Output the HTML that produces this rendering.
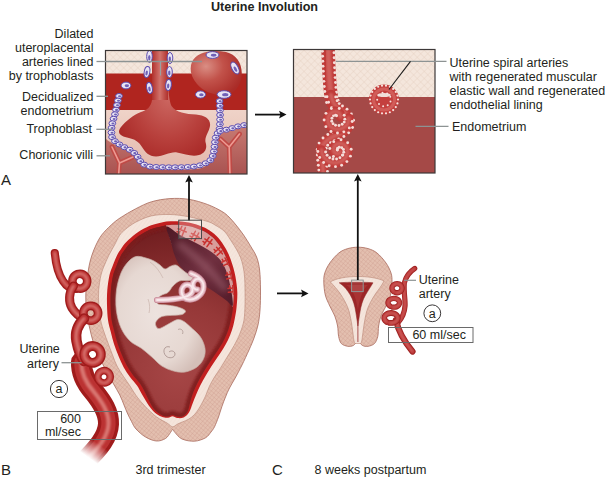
<!DOCTYPE html>
<html><head><meta charset="utf-8">
<style>
html,body{margin:0;padding:0;background:#fff;}
body{width:605px;height:478px;overflow:hidden;position:relative;}
svg{position:absolute;left:0;top:0;display:block;}
text{font-family:"Liberation Sans",sans-serif;fill:#231f20;}
</style></head><body>
<svg width="605" height="478" viewBox="0 0 605 478">

<defs>
  <pattern id="hatchCream" width="5" height="5" patternUnits="userSpaceOnUse" patternTransform="rotate(45)">
    <rect width="5" height="5" fill="#f4e6dc"/>
    <path d="M0 0V5M0 0H5" stroke="#e3cbbd" stroke-width="0.7"/>
  </pattern>
  <pattern id="hatchWall" width="3.2" height="3.2" patternUnits="userSpaceOnUse" patternTransform="rotate(40)">
    <rect width="3.2" height="3.2" fill="#e3bfaf"/>
    <path d="M0 0V3.2M0 0H3.2" stroke="#cc9b8a" stroke-width="0.55"/>
  </pattern>
  <pattern id="hatchLight" width="3" height="3" patternUnits="userSpaceOnUse" patternTransform="rotate(35)">
    <rect width="3" height="3" fill="#f5e5dc"/>
    <path d="M0 0V3" stroke="#e8d2c6" stroke-width="0.5"/>
  </pattern>
  <linearGradient id="box1low" x1="0" y1="0" x2="0" y2="1">
    <stop offset="0" stop-color="#efd3c8"/>
    <stop offset="1" stop-color="#e2b6aa"/>
  </linearGradient>
  <linearGradient id="box1dark" x1="0" y1="0" x2="0" y2="1">
    <stop offset="0" stop-color="#c87a72"/>
    <stop offset="1" stop-color="#a85250"/>
  </linearGradient>
  <radialGradient id="blobGrad" cx="0.55" cy="0.45" r="0.65">
    <stop offset="0" stop-color="#cc6862"/>
    <stop offset="0.6" stop-color="#b8403c"/>
    <stop offset="1" stop-color="#a82826"/>
  </radialGradient>
  <linearGradient id="stalkGrad" x1="0" y1="0" x2="1" y2="0">
    <stop offset="0" stop-color="#b0302c"/>
    <stop offset="0.5" stop-color="#d2736c"/>
    <stop offset="1" stop-color="#b0302c"/>
  </linearGradient>
  <radialGradient id="roundGrad" cx="0.3" cy="0.35" r="0.75">
    <stop offset="0" stop-color="#da8e84"/>
    <stop offset="0.45" stop-color="#c2524a"/>
    <stop offset="1" stop-color="#aa2c28"/>
  </radialGradient>
  <radialGradient id="cavity" gradientUnits="userSpaceOnUse" cx="178" cy="372" r="150">
    <stop offset="0" stop-color="#a64646"/>
    <stop offset="0.45" stop-color="#963838"/>
    <stop offset="1" stop-color="#6e1c1e"/>
  </radialGradient>
  <linearGradient id="placenta" x1="0" y1="0" x2="1" y2="1">
    <stop offset="0" stop-color="#4e1824"/>
    <stop offset="0.55" stop-color="#703040"/>
    <stop offset="1" stop-color="#521a28"/>
  </linearGradient>
  <radialGradient id="fetusGrad" cx="0.45" cy="0.5" r="0.6">
    <stop offset="0" stop-color="#ede2de"/>
    <stop offset="0.7" stop-color="#e6d8d2"/>
    <stop offset="1" stop-color="#d4bfb8"/>
  </radialGradient>
  <filter id="soft" x="-20%" y="-20%" width="140%" height="140%"><feGaussianBlur stdDeviation="0.8"/></filter>
  <filter id="soft2" x="-30%" y="-30%" width="160%" height="160%"><feGaussianBlur stdDeviation="3"/></filter>
  <filter id="soft05" x="-10%" y="-10%" width="120%" height="120%"><feGaussianBlur stdDeviation="0.35"/></filter>
  <linearGradient id="trunkFade" gradientUnits="userSpaceOnUse" x1="99" y1="444" x2="89" y2="458">
    <stop offset="0" stop-color="#fff"/>
    <stop offset="1" stop-color="#000"/>
  </linearGradient>
  <mask id="trunkMask" maskUnits="userSpaceOnUse" x="0" y="0" width="605" height="478">
    <rect x="0" y="0" width="605" height="478" fill="url(#trunkFade)"/>
  </mask>
  <linearGradient id="fadeArt" x1="0" y1="0" x2="0" y2="1">
    <stop offset="0" stop-color="#fff" stop-opacity="0"/>
    <stop offset="1" stop-color="#fff" stop-opacity="1"/>
  </linearGradient>
</defs>
<text x="211" y="11" font-size="12.6" font-weight="bold">Uterine Involution</text>
<clipPath id="clip1"><rect x="105" y="50" width="142" height="124"/></clipPath>
<g clip-path="url(#clip1)">
<rect x="105" y="50" width="142" height="24" fill="url(#hatchCream)"/>
<rect x="105" y="73.5" width="142" height="37" fill="#b0251f"/>
<rect x="105" y="110" width="142" height="64" fill="url(#box1low)"/>
<path d="M105 138 C108 141 112 143.5 120 147 C128 151 134 154 137 158 C140 163 145 168 152 169 C170 170 190 170 200 168.5 C208 166 212 162 214 157 C216 150 216 140 219 133 C228 130 238 127 247 126 L247 175 L105 175 Z" fill="url(#box1dark)"/>
<path d="M152 48 L152 100 C151 107 147 110 141 112 C133 115 126 121 121 127 C117 132 119 136 127 137.5 C135 139 139 142 142 147 C145 152 149 156.5 156 156.5 C164 156.5 170 151.5 177 152.5 C185 154 192 157 199 155 C205.5 153 207.5 148 205.5 142 C204.5 137 209 132 210 126 C211 119 205 115.5 196 114.5 C186 114 176 112.5 171.5 106 C168.5 98 168 90 168 48 Z" fill="url(#blobGrad)"/>
<rect x="152" y="48" width="16" height="52" fill="url(#stalkGrad)"/>
<path d="M192 62 C196 52 212 49 226 52 C238 55 244 66 241 80 C238 90 231 95 222 95 C212 95 203 91 197 84 C191 77 189 69 192 62 Z" fill="url(#roundGrad)"/>
<g fill="none" stroke="#bf4a46" stroke-width="4.8" stroke-linecap="round"><path d="M118.5 176 L119.5 163 L112 147 M119.5 163 L133 157"/><path d="M230 176 L229.2 147 L220.5 139 M229.2 147 L239.5 134"/></g>
<g fill="none" stroke="#ee9a92" stroke-width="1.6" stroke-linecap="round"><path d="M118.5 176 L119.5 163 L112 147 M119.5 163 L133 157"/><path d="M230 176 L229.2 147 L220.5 139 M229.2 147 L239.5 134"/></g>
<g transform="translate(119 96) rotate(0)"><ellipse rx="3.4" ry="2.5" fill="#e9e4f3" stroke="#5c4cb0" stroke-width="1"/><ellipse cx="0.61" cy="0.2" rx="1.53" ry="1.05" fill="#6252b0" opacity="0.9"/></g>
<g transform="translate(117.91 100.58) rotate(0)"><ellipse rx="3.4" ry="2.5" fill="#e9e4f3" stroke="#5c4cb0" stroke-width="1"/><ellipse cx="0.61" cy="0.2" rx="1.53" ry="1.05" fill="#6252b0" opacity="0.9"/></g>
<g transform="translate(116.91 105.12) rotate(0)"><ellipse rx="3.4" ry="2.5" fill="#e9e4f3" stroke="#5c4cb0" stroke-width="1"/><ellipse cx="0.61" cy="0.2" rx="1.53" ry="1.05" fill="#6252b0" opacity="0.9"/></g>
<g transform="translate(115.94 109.71) rotate(0)"><ellipse rx="3.4" ry="2.5" fill="#e9e4f3" stroke="#5c4cb0" stroke-width="1"/><ellipse cx="0.61" cy="0.2" rx="1.53" ry="1.05" fill="#6252b0" opacity="0.9"/></g>
<g transform="translate(114.92 114.29) rotate(0)"><ellipse rx="3.4" ry="2.5" fill="#e9e4f3" stroke="#5c4cb0" stroke-width="1"/><ellipse cx="0.61" cy="0.2" rx="1.53" ry="1.05" fill="#6252b0" opacity="0.9"/></g>
<g transform="translate(113.56 118.78) rotate(0)"><ellipse rx="3.4" ry="2.5" fill="#e9e4f3" stroke="#5c4cb0" stroke-width="1"/><ellipse cx="0.61" cy="0.2" rx="1.53" ry="1.05" fill="#6252b0" opacity="0.9"/></g>
<g transform="translate(112.34 123.3) rotate(0)"><ellipse rx="3.4" ry="2.5" fill="#e9e4f3" stroke="#5c4cb0" stroke-width="1"/><ellipse cx="0.61" cy="0.2" rx="1.53" ry="1.05" fill="#6252b0" opacity="0.9"/></g>
<g transform="translate(111.58 127.87) rotate(0)"><ellipse rx="3.4" ry="2.5" fill="#e9e4f3" stroke="#5c4cb0" stroke-width="1"/><ellipse cx="0.61" cy="0.2" rx="1.53" ry="1.05" fill="#6252b0" opacity="0.9"/></g>
<g transform="translate(111.43 132.49) rotate(0)"><ellipse rx="3.4" ry="2.5" fill="#e9e4f3" stroke="#5c4cb0" stroke-width="1"/><ellipse cx="0.61" cy="0.2" rx="1.53" ry="1.05" fill="#6252b0" opacity="0.9"/></g>
<g transform="translate(112.03 137.07) rotate(0)"><ellipse rx="3.4" ry="2.5" fill="#e9e4f3" stroke="#5c4cb0" stroke-width="1"/><ellipse cx="0.61" cy="0.2" rx="1.53" ry="1.05" fill="#6252b0" opacity="0.9"/></g>
<g transform="translate(114.96 141.18) rotate(0)"><ellipse rx="3.4" ry="2.5" fill="#e9e4f3" stroke="#5c4cb0" stroke-width="1"/><ellipse cx="0.61" cy="0.2" rx="1.53" ry="1.05" fill="#6252b0" opacity="0.9"/></g>
<g transform="translate(119.4 144.46) rotate(0)"><ellipse rx="3.4" ry="2.5" fill="#e9e4f3" stroke="#5c4cb0" stroke-width="1"/><ellipse cx="0.61" cy="0.2" rx="1.53" ry="1.05" fill="#6252b0" opacity="0.9"/></g>
<g transform="translate(124.43 147.21) rotate(0)"><ellipse rx="3.4" ry="2.5" fill="#e9e4f3" stroke="#5c4cb0" stroke-width="1"/><ellipse cx="0.61" cy="0.2" rx="1.53" ry="1.05" fill="#6252b0" opacity="0.9"/></g>
<g transform="translate(129.65 149.77) rotate(0)"><ellipse rx="3.4" ry="2.5" fill="#e9e4f3" stroke="#5c4cb0" stroke-width="1"/><ellipse cx="0.61" cy="0.2" rx="1.53" ry="1.05" fill="#6252b0" opacity="0.9"/></g>
<g transform="translate(134.19 152.97) rotate(0)"><ellipse rx="3.4" ry="2.5" fill="#e9e4f3" stroke="#5c4cb0" stroke-width="1"/><ellipse cx="0.61" cy="0.2" rx="1.53" ry="1.05" fill="#6252b0" opacity="0.9"/></g>
<g transform="translate(137.63 156.85) rotate(0)"><ellipse rx="3.4" ry="2.5" fill="#e9e4f3" stroke="#5c4cb0" stroke-width="1"/><ellipse cx="0.61" cy="0.2" rx="1.53" ry="1.05" fill="#6252b0" opacity="0.9"/></g>
<g transform="translate(140.21 161.04) rotate(0)"><ellipse rx="3.4" ry="2.5" fill="#e9e4f3" stroke="#5c4cb0" stroke-width="1"/><ellipse cx="0.61" cy="0.2" rx="1.53" ry="1.05" fill="#6252b0" opacity="0.9"/></g>
<g transform="translate(144.16 164.63) rotate(0)"><ellipse rx="3.4" ry="2.5" fill="#e9e4f3" stroke="#5c4cb0" stroke-width="1"/><ellipse cx="0.61" cy="0.2" rx="1.53" ry="1.05" fill="#6252b0" opacity="0.9"/></g>
<g transform="translate(149.84 166.59) rotate(0)"><ellipse rx="3.4" ry="2.5" fill="#e9e4f3" stroke="#5c4cb0" stroke-width="1"/><ellipse cx="0.61" cy="0.2" rx="1.53" ry="1.05" fill="#6252b0" opacity="0.9"/></g>
<g transform="translate(156.16 167) rotate(0)"><ellipse rx="3.4" ry="2.5" fill="#e9e4f3" stroke="#5c4cb0" stroke-width="1"/><ellipse cx="0.61" cy="0.2" rx="1.53" ry="1.05" fill="#6252b0" opacity="0.9"/></g>
<g transform="translate(162.46 167.2) rotate(0)"><ellipse rx="3.4" ry="2.5" fill="#e9e4f3" stroke="#5c4cb0" stroke-width="1"/><ellipse cx="0.61" cy="0.2" rx="1.53" ry="1.05" fill="#6252b0" opacity="0.9"/></g>
<g transform="translate(168.76 167.31) rotate(0)"><ellipse rx="3.4" ry="2.5" fill="#e9e4f3" stroke="#5c4cb0" stroke-width="1"/><ellipse cx="0.61" cy="0.2" rx="1.53" ry="1.05" fill="#6252b0" opacity="0.9"/></g>
<g transform="translate(175.05 167.32) rotate(0)"><ellipse rx="3.4" ry="2.5" fill="#e9e4f3" stroke="#5c4cb0" stroke-width="1"/><ellipse cx="0.61" cy="0.2" rx="1.53" ry="1.05" fill="#6252b0" opacity="0.9"/></g>
<g transform="translate(181.32 167.22) rotate(0)"><ellipse rx="3.4" ry="2.5" fill="#e9e4f3" stroke="#5c4cb0" stroke-width="1"/><ellipse cx="0.61" cy="0.2" rx="1.53" ry="1.05" fill="#6252b0" opacity="0.9"/></g>
<g transform="translate(187.65 167.02) rotate(0)"><ellipse rx="3.4" ry="2.5" fill="#e9e4f3" stroke="#5c4cb0" stroke-width="1"/><ellipse cx="0.61" cy="0.2" rx="1.53" ry="1.05" fill="#6252b0" opacity="0.9"/></g>
<g transform="translate(193.9 166.58) rotate(0)"><ellipse rx="3.4" ry="2.5" fill="#e9e4f3" stroke="#5c4cb0" stroke-width="1"/><ellipse cx="0.61" cy="0.2" rx="1.53" ry="1.05" fill="#6252b0" opacity="0.9"/></g>
<g transform="translate(199.95 165.34) rotate(0)"><ellipse rx="3.4" ry="2.5" fill="#e9e4f3" stroke="#5c4cb0" stroke-width="1"/><ellipse cx="0.61" cy="0.2" rx="1.53" ry="1.05" fill="#6252b0" opacity="0.9"/></g>
<g transform="translate(205.56 163.25) rotate(0)"><ellipse rx="3.4" ry="2.5" fill="#e9e4f3" stroke="#5c4cb0" stroke-width="1"/><ellipse cx="0.61" cy="0.2" rx="1.53" ry="1.05" fill="#6252b0" opacity="0.9"/></g>
<g transform="translate(210.28 160.18) rotate(0)"><ellipse rx="3.4" ry="2.5" fill="#e9e4f3" stroke="#5c4cb0" stroke-width="1"/><ellipse cx="0.61" cy="0.2" rx="1.53" ry="1.05" fill="#6252b0" opacity="0.9"/></g>
<g transform="translate(212.7 155.91) rotate(0)"><ellipse rx="3.4" ry="2.5" fill="#e9e4f3" stroke="#5c4cb0" stroke-width="1"/><ellipse cx="0.61" cy="0.2" rx="1.53" ry="1.05" fill="#6252b0" opacity="0.9"/></g>
<g transform="translate(213.84 151.36) rotate(0)"><ellipse rx="3.4" ry="2.5" fill="#e9e4f3" stroke="#5c4cb0" stroke-width="1"/><ellipse cx="0.61" cy="0.2" rx="1.53" ry="1.05" fill="#6252b0" opacity="0.9"/></g>
<g transform="translate(214.49 146.74) rotate(0)"><ellipse rx="3.4" ry="2.5" fill="#e9e4f3" stroke="#5c4cb0" stroke-width="1"/><ellipse cx="0.61" cy="0.2" rx="1.53" ry="1.05" fill="#6252b0" opacity="0.9"/></g>
<g transform="translate(214.91 142.15) rotate(0)"><ellipse rx="3.4" ry="2.5" fill="#e9e4f3" stroke="#5c4cb0" stroke-width="1"/><ellipse cx="0.61" cy="0.2" rx="1.53" ry="1.05" fill="#6252b0" opacity="0.9"/></g>
<g transform="translate(215.7 137.58) rotate(0)"><ellipse rx="3.4" ry="2.5" fill="#e9e4f3" stroke="#5c4cb0" stroke-width="1"/><ellipse cx="0.61" cy="0.2" rx="1.53" ry="1.05" fill="#6252b0" opacity="0.9"/></g>
<g transform="translate(217.58 133.18) rotate(0)"><ellipse rx="3.4" ry="2.5" fill="#e9e4f3" stroke="#5c4cb0" stroke-width="1"/><ellipse cx="0.61" cy="0.2" rx="1.53" ry="1.05" fill="#6252b0" opacity="0.9"/></g>
<g transform="translate(219.52 128.8) rotate(0)"><ellipse rx="3.4" ry="2.5" fill="#e9e4f3" stroke="#5c4cb0" stroke-width="1"/><ellipse cx="0.61" cy="0.2" rx="1.53" ry="1.05" fill="#6252b0" opacity="0.9"/></g>
<g transform="translate(219.9 124.19) rotate(0)"><ellipse rx="3.4" ry="2.5" fill="#e9e4f3" stroke="#5c4cb0" stroke-width="1"/><ellipse cx="0.61" cy="0.2" rx="1.53" ry="1.05" fill="#6252b0" opacity="0.9"/></g>
<g transform="translate(220.06 119.58) rotate(0)"><ellipse rx="3.4" ry="2.5" fill="#e9e4f3" stroke="#5c4cb0" stroke-width="1"/><ellipse cx="0.61" cy="0.2" rx="1.53" ry="1.05" fill="#6252b0" opacity="0.9"/></g>
<g transform="translate(220.06 114.95) rotate(0)"><ellipse rx="3.4" ry="2.5" fill="#e9e4f3" stroke="#5c4cb0" stroke-width="1"/><ellipse cx="0.61" cy="0.2" rx="1.53" ry="1.05" fill="#6252b0" opacity="0.9"/></g>
<g transform="translate(219.96 110.31) rotate(0)"><ellipse rx="3.4" ry="2.5" fill="#e9e4f3" stroke="#5c4cb0" stroke-width="1"/><ellipse cx="0.61" cy="0.2" rx="1.53" ry="1.05" fill="#6252b0" opacity="0.9"/></g>
<g transform="translate(219.77 105.69) rotate(0)"><ellipse rx="3.4" ry="2.5" fill="#e9e4f3" stroke="#5c4cb0" stroke-width="1"/><ellipse cx="0.61" cy="0.2" rx="1.53" ry="1.05" fill="#6252b0" opacity="0.9"/></g>
<g transform="translate(219.55 101.05) rotate(0)"><ellipse rx="3.4" ry="2.5" fill="#e9e4f3" stroke="#5c4cb0" stroke-width="1"/><ellipse cx="0.61" cy="0.2" rx="1.53" ry="1.05" fill="#6252b0" opacity="0.9"/></g>
<g transform="translate(220.27 130.95) rotate(0)"><ellipse rx="3.4" ry="2.5" fill="#e9e4f3" stroke="#5c4cb0" stroke-width="1"/><ellipse cx="0.61" cy="0.2" rx="1.53" ry="1.05" fill="#6252b0" opacity="0.9"/></g>
<g transform="translate(226.3 129.71) rotate(0)"><ellipse rx="3.4" ry="2.5" fill="#e9e4f3" stroke="#5c4cb0" stroke-width="1"/><ellipse cx="0.61" cy="0.2" rx="1.53" ry="1.05" fill="#6252b0" opacity="0.9"/></g>
<g transform="translate(232.2 128.13) rotate(0)"><ellipse rx="3.4" ry="2.5" fill="#e9e4f3" stroke="#5c4cb0" stroke-width="1"/><ellipse cx="0.61" cy="0.2" rx="1.53" ry="1.05" fill="#6252b0" opacity="0.9"/></g>
<g transform="translate(238.01 126.38) rotate(0)"><ellipse rx="3.4" ry="2.5" fill="#e9e4f3" stroke="#5c4cb0" stroke-width="1"/><ellipse cx="0.61" cy="0.2" rx="1.53" ry="1.05" fill="#6252b0" opacity="0.9"/></g>
<g transform="translate(244.05 125.14) rotate(0)"><ellipse rx="3.4" ry="2.5" fill="#e9e4f3" stroke="#5c4cb0" stroke-width="1"/><ellipse cx="0.61" cy="0.2" rx="1.53" ry="1.05" fill="#6252b0" opacity="0.9"/></g>
<g transform="translate(149.5 56.5) rotate(90)"><ellipse rx="6" ry="2.8" fill="#e9e4f3" stroke="#5c4cb0" stroke-width="1"/><ellipse cx="1.08" cy="0.2" rx="2.7" ry="1.18" fill="#6252b0" opacity="0.9"/></g>
<g transform="translate(147 72) rotate(100)"><ellipse rx="5.5" ry="2.8" fill="#e9e4f3" stroke="#5c4cb0" stroke-width="1"/><ellipse cx="0.99" cy="0.2" rx="2.48" ry="1.18" fill="#6252b0" opacity="0.9"/></g>
<g transform="translate(149.5 88) rotate(80)"><ellipse rx="5.5" ry="2.8" fill="#e9e4f3" stroke="#5c4cb0" stroke-width="1"/><ellipse cx="0.99" cy="0.2" rx="2.48" ry="1.18" fill="#6252b0" opacity="0.9"/></g>
<g transform="translate(170 58) rotate(90)"><ellipse rx="5.5" ry="2.8" fill="#e9e4f3" stroke="#5c4cb0" stroke-width="1"/><ellipse cx="0.99" cy="0.2" rx="2.48" ry="1.18" fill="#6252b0" opacity="0.9"/></g>
<g transform="translate(169.5 72) rotate(90)"><ellipse rx="5.5" ry="2.8" fill="#e9e4f3" stroke="#5c4cb0" stroke-width="1"/><ellipse cx="0.99" cy="0.2" rx="2.48" ry="1.18" fill="#6252b0" opacity="0.9"/></g>
<g transform="translate(168.5 85) rotate(95)"><ellipse rx="5.5" ry="2.8" fill="#e9e4f3" stroke="#5c4cb0" stroke-width="1"/><ellipse cx="0.99" cy="0.2" rx="2.48" ry="1.18" fill="#6252b0" opacity="0.9"/></g>
<g transform="translate(126 85.5) rotate(0)"><ellipse rx="4.8" ry="3.4" fill="#e9e4f3" stroke="#5c4cb0" stroke-width="1"/><ellipse cx="0.86" cy="0.2" rx="2.16" ry="1.43" fill="#6252b0" opacity="0.9"/></g>
<g transform="translate(212.5 55) rotate(0)"><ellipse rx="6.5" ry="3.4" fill="#e9e4f3" stroke="#5c4cb0" stroke-width="1"/><ellipse cx="1.17" cy="0.2" rx="2.93" ry="1.43" fill="#6252b0" opacity="0.9"/></g>
<g transform="translate(235 68) rotate(62)"><ellipse rx="6.5" ry="3.2" fill="#e9e4f3" stroke="#5c4cb0" stroke-width="1"/><ellipse cx="1.17" cy="0.2" rx="2.93" ry="1.34" fill="#6252b0" opacity="0.9"/></g>
<g transform="translate(224 94.5) rotate(0)"><ellipse rx="7" ry="3.8" fill="#e9e4f3" stroke="#5c4cb0" stroke-width="1"/><ellipse cx="1.26" cy="0.2" rx="3.15" ry="1.6" fill="#6252b0" opacity="0.9"/></g>
<g transform="translate(200.5 94.5) rotate(0)"><ellipse rx="5" ry="3.6" fill="#e9e4f3" stroke="#5c4cb0" stroke-width="1"/><ellipse cx="0.9" cy="0.2" rx="2.25" ry="1.51" fill="#6252b0" opacity="0.9"/></g>
<line x1="105" y1="61.5" x2="202" y2="61.5" stroke="#8d9393" stroke-width="1.3"/>
<line x1="160.5" y1="61.5" x2="160.5" y2="75.5" stroke="#9aa0a0" stroke-width="1.1"/>
</g>
<rect x="105.5" y="50.5" width="141.5" height="123.5" fill="none" stroke="#3d3838" stroke-width="1.2"/>
<clipPath id="clip2"><rect x="293" y="49" width="142" height="124"/></clipPath>
<g clip-path="url(#clip2)">
<rect x="293" y="49" width="142" height="48" fill="url(#hatchCream)"/>
<rect x="293" y="97" width="142" height="76" fill="#a54947"/>
<path d="M327.8 40 C328.5 65 329.5 84 331 95 C331.5 99 332 101 333 103" fill="none" stroke="#bf3a38" stroke-width="13.5" stroke-linecap="round" stroke-linejoin="round"/>
<path d="M327.8 40 C328.5 65 329.5 84 331 95 C331.5 99 332 101 333 103" fill="none" stroke="#de7e78" stroke-width="5.4" stroke-linecap="round" opacity="0.55" filter="url(#soft)"/>
<g fill="#f4dcd8" filter="url(#soft05)"><circle cx="322.08" cy="41.16" r="1.45"/><circle cx="322.23" cy="46.18" r="1.45"/><circle cx="322.39" cy="51.19" r="1.45"/><circle cx="322.58" cy="56.21" r="1.45"/><circle cx="322.78" cy="61.23" r="1.45"/><circle cx="323" cy="66.26" r="1.45"/><circle cx="323.26" cy="71.29" r="1.45"/><circle cx="323.55" cy="76.32" r="1.45"/><circle cx="323.89" cy="81.37" r="1.45"/><circle cx="324.29" cy="86.44" r="1.45"/><circle cx="324.79" cy="91.54" r="1.45"/><circle cx="325.42" cy="96.65" r="1.45"/><circle cx="326.61" cy="102.49" r="1.45"/><circle cx="333.63" cy="42.83" r="1.45"/><circle cx="333.79" cy="47.81" r="1.45"/><circle cx="333.96" cy="52.79" r="1.45"/><circle cx="334.15" cy="57.76" r="1.45"/><circle cx="334.35" cy="62.73" r="1.45"/><circle cx="334.59" cy="67.69" r="1.45"/><circle cx="334.85" cy="72.65" r="1.45"/><circle cx="335.16" cy="77.58" r="1.45"/><circle cx="335.51" cy="82.51" r="1.45"/><circle cx="335.93" cy="87.39" r="1.45"/><circle cx="336.44" cy="92.22" r="1.45"/><circle cx="337.08" cy="96.86" r="1.45"/><circle cx="338.03" cy="100.2" r="1.45"/></g>
<path d="M331 95 C332.5 104 336 107 340 109.5 C344 112 347 114 348.5 118 C352 126 345 132 337 135 C329 138 322 142 321.5 150 C321 158 323.5 166 323.5 180" fill="none" stroke="#bf3a38" stroke-width="10.5" stroke-linecap="round" stroke-linejoin="round"/>
<path d="M331 95 C332.5 104 336 107 340 109.5 C344 112 347 114 348.5 118 C352 126 345 132 337 135 C329 138 322 142 321.5 150 C321 158 323.5 166 323.5 180" fill="none" stroke="#de7e78" stroke-width="4.2" stroke-linecap="round" opacity="0.55" filter="url(#soft)"/>
<g fill="#f4dcd8" filter="url(#soft05)"><circle cx="327" cy="96.79" r="1.45"/><circle cx="328.54" cy="102.31" r="1.45"/><circle cx="331.56" cy="107.77" r="1.45"/><circle cx="336.12" cy="112.03" r="1.45"/><circle cx="340.34" cy="114.78" r="1.45"/><circle cx="343.25" cy="117.29" r="1.45"/><circle cx="344.85" cy="120.33" r="1.45"/><circle cx="345.09" cy="123.04" r="1.45"/><circle cx="343.78" cy="125.67" r="1.45"/><circle cx="341" cy="128.2" r="1.45"/><circle cx="337.33" cy="130.27" r="1.45"/><circle cx="332.8" cy="132.09" r="1.45"/><circle cx="327.84" cy="134.51" r="1.45"/><circle cx="323.03" cy="137.96" r="1.45"/><circle cx="319.06" cy="143.09" r="1.45"/><circle cx="317.28" cy="149.49" r="1.45"/><circle cx="317.27" cy="155.05" r="1.45"/><circle cx="317.74" cy="160.26" r="1.45"/><circle cx="318.32" cy="165.23" r="1.45"/><circle cx="318.82" cy="170.09" r="1.45"/><circle cx="319.13" cy="174.91" r="1.45"/><circle cx="319.25" cy="179.72" r="1.45"/><circle cx="335.73" cy="96.89" r="1.45"/><circle cx="337.11" cy="100.71" r="1.45"/><circle cx="339.22" cy="103.62" r="1.45"/><circle cx="342.49" cy="106.04" r="1.45"/><circle cx="347.03" cy="109.17" r="1.45"/><circle cx="351.33" cy="114.07" r="1.45"/><circle cx="353.54" cy="120.27" r="1.45"/><circle cx="352.56" cy="127.46" r="1.45"/><circle cx="348.69" cy="132.87" r="1.45"/><circle cx="343.9" cy="136.43" r="1.45"/><circle cx="338.75" cy="138.88" r="1.45"/><circle cx="334.42" cy="140.67" r="1.45"/><circle cx="330.63" cy="142.78" r="1.45"/><circle cx="327.76" cy="145.28" r="1.45"/><circle cx="326.13" cy="148.14" r="1.45"/><circle cx="325.69" cy="151.84" r="1.45"/><circle cx="325.89" cy="156.43" r="1.45"/><circle cx="326.42" cy="161.27" r="1.45"/><circle cx="326.99" cy="166.29" r="1.45"/><circle cx="327.45" cy="171.42" r="1.45"/><circle cx="327.7" cy="176.59" r="1.45"/></g>
<path d="M348.5 118 C349.5 126 342 130.5 335 129 C328 127.5 325.5 119 330.5 113.5 C334.5 109.5 341 111.5 340.5 117" fill="none" stroke="#bf3a38" stroke-width="9.5" stroke-linecap="round" stroke-linejoin="round"/>
<path d="M348.5 118 C349.5 126 342 130.5 335 129 C328 127.5 325.5 119 330.5 113.5 C334.5 109.5 341 111.5 340.5 117" fill="none" stroke="#de7e78" stroke-width="3.8" stroke-linecap="round" opacity="0.55" filter="url(#soft)"/>
<g fill="#f4dcd8" filter="url(#soft05)"><circle cx="344.83" cy="119.14" r="1.45"/><circle cx="344.21" cy="122.11" r="1.45"/><circle cx="342.17" cy="124.29" r="1.45"/><circle cx="338.98" cy="125.45" r="1.45"/><circle cx="335.53" cy="125.27" r="1.45"/><circle cx="333.04" cy="123.81" r="1.45"/><circle cx="331.74" cy="121.25" r="1.45"/><circle cx="331.93" cy="118.27" r="1.45"/><circle cx="333.49" cy="115.85" r="1.45"/><circle cx="335.53" cy="115.15" r="1.45"/><circle cx="336.61" cy="115.69" r="1.45"/><circle cx="352.18" cy="121.57" r="1.45"/><circle cx="349.3" cy="127.91" r="1.45"/><circle cx="343.83" cy="131.85" r="1.45"/><circle cx="337.49" cy="133.03" r="1.45"/><circle cx="330.99" cy="131.52" r="1.45"/><circle cx="325.88" cy="126.66" r="1.45"/><circle cx="324.13" cy="119.95" r="1.45"/><circle cx="325.97" cy="113.36" r="1.45"/><circle cx="331.36" cy="108.47" r="1.45"/><circle cx="339.23" cy="108.47" r="1.45"/><circle cx="344.21" cy="115.29" r="1.45"/></g>
<path d="M321.5 150 C322 159 330 164.5 338 162.5 C346 160.5 350 152 346 146.5 C342 141.5 334 143 333.5 149 C333 154 339 155.5 340.5 151.5" fill="none" stroke="#bf3a38" stroke-width="9.5" stroke-linecap="round" stroke-linejoin="round"/>
<path d="M321.5 150 C322 159 330 164.5 338 162.5 C346 160.5 350 152 346 146.5 C342 141.5 334 143 333.5 149 C333 154 339 155.5 340.5 151.5" fill="none" stroke="#de7e78" stroke-width="3.8" stroke-linecap="round" opacity="0.55" filter="url(#soft)"/>
<g fill="#f4dcd8" filter="url(#soft05)"><circle cx="317.86" cy="151.44" r="1.45"/><circle cx="319.68" cy="157.47" r="1.45"/><circle cx="323.61" cy="162.51" r="1.45"/><circle cx="329.15" cy="165.72" r="1.45"/><circle cx="335.46" cy="166.64" r="1.45"/><circle cx="341.62" cy="165.22" r="1.45"/><circle cx="346.9" cy="161.62" r="1.45"/><circle cx="350.44" cy="156.13" r="1.45"/><circle cx="351.14" cy="149.27" r="1.45"/><circle cx="347.67" cy="142.81" r="1.45"/><circle cx="341.03" cy="139.8" r="1.45"/><circle cx="333.71" cy="141.65" r="1.45"/><circle cx="329.78" cy="148.52" r="1.45"/><circle cx="333.44" cy="156.44" r="1.45"/><circle cx="342.84" cy="154.9" r="1.45"/><circle cx="325.59" cy="152.03" r="1.45"/><circle cx="327.1" cy="155.27" r="1.45"/><circle cx="329.69" cy="157.72" r="1.45"/><circle cx="332.98" cy="159" r="1.45"/><circle cx="336.57" cy="158.98" r="1.45"/><circle cx="339.92" cy="157.66" r="1.45"/><circle cx="342.47" cy="155.27" r="1.45"/><circle cx="343.75" cy="152.26" r="1.45"/><circle cx="343.43" cy="149.5" r="1.45"/><circle cx="341.74" cy="147.72" r="1.45"/><circle cx="339.28" cy="147.28" r="1.45"/><circle cx="337.59" cy="148.23" r="1.45"/><circle cx="337.25" cy="149.86" r="1.45"/><circle cx="337.35" cy="150.04" r="1.45"/></g>
<circle cx="384" cy="99.5" r="15" fill="#c4403e"/>
<circle cx="384" cy="99.5" r="10.5" fill="none" stroke="#da726c" stroke-width="3" opacity="0.6"/>
<ellipse cx="384" cy="95" rx="6.8" ry="2" fill="#f0e0da"/>
<g fill="#f7e2de"><circle cx="398" cy="99.5" r="1.1"/><circle cx="397.43" cy="103.44" r="1.1"/><circle cx="395.78" cy="107.07" r="1.1"/><circle cx="393.17" cy="110.08" r="1.1"/><circle cx="389.82" cy="112.23" r="1.1"/><circle cx="385.99" cy="113.36" r="1.1"/><circle cx="382.01" cy="113.36" r="1.1"/><circle cx="378.18" cy="112.23" r="1.1"/><circle cx="374.83" cy="110.08" r="1.1"/><circle cx="372.22" cy="107.07" r="1.1"/><circle cx="370.57" cy="103.44" r="1.1"/><circle cx="370" cy="99.5" r="1.1"/><circle cx="370.57" cy="95.56" r="1.1"/><circle cx="372.22" cy="91.93" r="1.1"/><circle cx="374.83" cy="88.92" r="1.1"/><circle cx="378.18" cy="86.77" r="1.1"/><circle cx="382.01" cy="85.64" r="1.1"/><circle cx="385.99" cy="85.64" r="1.1"/><circle cx="389.82" cy="86.77" r="1.1"/><circle cx="393.17" cy="88.92" r="1.1"/><circle cx="395.78" cy="91.93" r="1.1"/><circle cx="397.43" cy="95.56" r="1.1"/><circle cx="390.5" cy="101.51" r="1.0"/><circle cx="387.68" cy="105.22" r="1.0"/><circle cx="383.15" cy="106.25" r="1.0"/><circle cx="379.01" cy="104.12" r="1.0"/><circle cx="377.21" cy="99.83" r="1.0"/><circle cx="378.58" cy="95.39" r="1.0"/><circle cx="382.49" cy="92.87" r="1.0"/><circle cx="387.11" cy="93.45" r="1.0"/><circle cx="390.27" cy="96.86" r="1.0"/></g>
</g>
<rect x="293.5" y="49.5" width="141.5" height="123.5" fill="none" stroke="#3d3838" stroke-width="1.2"/>
<line x1="336" y1="61.3" x2="446.5" y2="61.3" stroke="#8d9393" stroke-width="1.3"/>
<line x1="410.5" y1="61.3" x2="389" y2="89.5" stroke="#1a1a1a" stroke-width="1.1"/>
<line x1="415.5" y1="126.3" x2="448.5" y2="126.3" stroke="#8d9393" stroke-width="1.3"/>
<path d="M188.80 199.30 C182.53 198.32 176.23 198.18 170.00 198.60 C163.77 199.02 157.12 200.10 151.40 201.80 C145.68 203.50 140.93 206.10 135.70 208.80 C130.47 211.50 124.08 215.30 120.00 218.00 C115.92 220.70 114.25 222.17 111.20 225.00 C108.15 227.83 104.23 231.67 101.70 235.00 C99.17 238.33 97.62 241.67 96.00 245.00 C94.38 248.33 93.12 251.67 92.00 255.00 C90.88 258.33 90.08 261.17 89.30 265.00 C88.52 268.83 87.88 273.00 87.30 278.00 C86.72 283.00 85.93 289.33 85.80 295.00 C85.67 300.67 85.93 306.83 86.50 312.00 C87.07 317.17 88.03 320.83 89.20 326.00 C90.37 331.17 91.78 337.67 93.50 343.00 C95.22 348.33 97.33 353.33 99.50 358.00 C101.67 362.67 104.25 366.83 106.50 371.00 C108.75 375.17 110.78 379.00 113.00 383.00 C115.22 387.00 117.97 391.33 119.80 395.00 C121.63 398.67 122.75 402.00 124.00 405.00 C125.25 408.00 126.05 410.25 127.30 413.00 C128.55 415.75 130.05 418.83 131.50 421.50 C132.95 424.17 133.67 426.42 136.00 429.00 C138.33 431.58 142.10 435.00 145.50 437.00 C148.90 439.00 153.07 440.75 156.40 441.00 C159.73 441.25 163.15 439.92 165.50 438.50 C167.85 437.08 169.30 434.00 170.50 432.50 C171.70 431.00 171.95 429.50 172.70 429.50 C173.45 429.50 173.45 430.92 175.00 432.50 C176.55 434.08 178.75 437.55 182.00 439.00 C185.25 440.45 190.58 441.40 194.50 441.20 C198.42 441.00 202.75 439.33 205.50 437.80 C208.25 436.27 209.50 433.83 211.00 432.00 C212.50 430.17 213.25 429.30 214.50 426.80 C215.75 424.30 217.28 420.33 218.50 417.00 C219.72 413.67 220.63 410.13 221.80 406.80 C222.97 403.47 224.22 400.13 225.50 397.00 C226.78 393.87 227.88 391.17 229.50 388.00 C231.12 384.83 233.12 381.83 235.20 378.00 C237.28 374.17 239.70 369.67 242.00 365.00 C244.30 360.33 247.00 354.50 249.00 350.00 C251.00 345.50 252.50 342.17 254.00 338.00 C255.50 333.83 257.00 329.67 258.00 325.00 C259.00 320.33 259.58 315.83 260.00 310.00 C260.42 304.17 260.57 296.67 260.50 290.00 C260.43 283.33 260.25 275.50 259.60 270.00 C258.95 264.50 258.12 261.00 256.60 257.00 C255.08 253.00 252.67 249.67 250.50 246.00 C248.33 242.33 246.02 238.50 243.60 235.00 C241.18 231.50 238.43 228.00 236.00 225.00 C233.57 222.00 231.33 219.25 229.00 217.00 C226.67 214.75 225.57 213.58 222.00 211.50 C218.43 209.42 213.13 206.53 207.60 204.50 C202.07 202.47 195.07 200.28 188.80 199.30Z" fill="url(#hatchWall)" stroke="#a86a5c" stroke-width="0.8"/>
<path d="M188.80 216.80 C182.53 215.63 176.23 214.65 170.00 214.50 C163.77 214.35 157.12 214.62 151.40 215.90 C145.68 217.18 140.07 219.93 135.70 222.20 C131.33 224.47 127.90 227.28 125.20 229.50 C122.50 231.72 121.28 232.92 119.50 235.50 C117.72 238.08 116.25 241.75 114.50 245.00 C112.75 248.25 110.67 251.67 109.00 255.00 C107.33 258.33 105.83 261.67 104.50 265.00 C103.17 268.33 101.97 270.83 101.00 275.00 C100.03 279.17 99.07 285.00 98.70 290.00 C98.33 295.00 98.48 300.00 98.80 305.00 C99.12 310.00 99.73 315.50 100.60 320.00 C101.47 324.50 102.77 328.17 104.00 332.00 C105.23 335.83 106.58 339.17 108.00 343.00 C109.42 346.83 111.00 351.17 112.50 355.00 C114.00 358.83 115.17 362.42 117.00 366.00 C118.83 369.58 121.33 373.17 123.50 376.50 C125.67 379.83 127.85 382.75 130.00 386.00 C132.15 389.25 133.82 392.53 136.40 396.00 C138.98 399.47 142.17 403.33 145.50 406.80 C148.83 410.27 152.77 414.07 156.40 416.80 C160.03 419.53 164.58 421.53 167.30 423.20 C170.02 424.87 170.92 426.70 172.70 426.80 C174.48 426.90 175.45 425.02 178.00 423.80 C180.55 422.58 185.25 421.05 188.00 419.50 C190.75 417.95 192.50 416.62 194.50 414.50 C196.50 412.38 198.17 409.88 200.00 406.80 C201.83 403.72 203.92 399.47 205.50 396.00 C207.08 392.53 208.00 389.17 209.50 386.00 C211.00 382.83 212.67 380.00 214.50 377.00 C216.33 374.00 218.58 371.00 220.50 368.00 C222.42 365.00 224.17 362.00 226.00 359.00 C227.83 356.00 229.75 353.00 231.50 350.00 C233.25 347.00 235.00 344.00 236.50 341.00 C238.00 338.00 239.25 335.50 240.50 332.00 C241.75 328.50 243.25 324.50 244.00 320.00 C244.75 315.50 244.83 310.00 245.00 305.00 C245.17 300.00 245.07 294.67 245.00 290.00 C244.93 285.33 244.93 281.00 244.60 277.00 C244.27 273.00 243.68 269.25 243.00 266.00 C242.32 262.75 241.58 260.25 240.50 257.50 C239.42 254.75 238.00 252.17 236.50 249.50 C235.00 246.83 233.50 244.50 231.50 241.50 C229.50 238.50 227.25 234.25 224.50 231.50 C221.75 228.75 217.82 226.67 215.00 225.00 C212.18 223.33 211.97 222.87 207.60 221.50 C203.23 220.13 195.07 217.97 188.80 216.80Z" fill="url(#hatchLight)" stroke="#b88474" stroke-width="0.6"/>
<path d="M188.80 222.40 C183.30 221.45 175.37 221.07 170.00 221.30 C164.63 221.53 160.57 222.78 156.60 223.80 C152.63 224.82 149.68 225.75 146.20 227.40 C142.72 229.05 139.02 231.25 135.70 233.70 C132.38 236.15 128.75 239.55 126.30 242.10 C123.85 244.65 122.52 246.85 121.00 249.00 C119.48 251.15 118.53 252.33 117.20 255.00 C115.87 257.67 114.28 261.67 113.00 265.00 C111.72 268.33 110.45 270.83 109.50 275.00 C108.55 279.17 107.72 285.00 107.30 290.00 C106.88 295.00 106.88 300.00 107.00 305.00 C107.12 310.00 107.37 315.50 108.00 320.00 C108.63 324.50 109.80 328.00 110.80 332.00 C111.80 336.00 112.72 340.00 114.00 344.00 C115.28 348.00 116.92 352.17 118.50 356.00 C120.08 359.83 121.58 363.50 123.50 367.00 C125.42 370.50 127.75 373.92 130.00 377.00 C132.25 380.08 135.03 382.67 137.00 385.50 C138.97 388.33 140.08 391.05 141.80 394.00 C143.52 396.95 145.33 400.30 147.30 403.20 C149.27 406.10 151.18 409.13 153.60 411.40 C156.02 413.67 159.40 415.73 161.80 416.80 C164.20 417.87 166.22 417.88 168.00 417.80 C169.78 417.72 171.00 416.27 172.50 416.30 C174.00 416.33 175.15 417.80 177.00 418.00 C178.85 418.20 181.58 418.45 183.60 417.50 C185.62 416.55 187.58 414.68 189.10 412.30 C190.62 409.92 191.48 406.23 192.70 403.20 C193.92 400.17 195.10 397.13 196.40 394.10 C197.70 391.07 198.98 388.02 200.50 385.00 C202.02 381.98 203.75 379.00 205.50 376.00 C207.25 373.00 209.08 370.00 211.00 367.00 C212.92 364.00 215.00 361.00 217.00 358.00 C219.00 355.00 221.17 352.00 223.00 349.00 C224.83 346.00 226.50 343.17 228.00 340.00 C229.50 336.83 230.92 333.33 232.00 330.00 C233.08 326.67 233.75 323.67 234.50 320.00 C235.25 316.33 236.03 312.67 236.50 308.00 C236.97 303.33 237.47 297.17 237.30 292.00 C237.13 286.83 236.30 281.50 235.50 277.00 C234.70 272.50 233.67 268.83 232.50 265.00 C231.33 261.17 230.00 257.33 228.50 254.00 C227.00 250.67 225.33 247.83 223.50 245.00 C221.67 242.17 219.58 239.25 217.50 237.00 C215.42 234.75 213.42 233.17 211.00 231.50 C208.58 229.83 206.70 228.52 203.00 227.00 C199.30 225.48 194.30 223.35 188.80 222.40Z" fill="#c21f1f"/>
<path d="M188.19 225.95 C182.94 225.04 175.27 224.67 170.16 224.90 C165.04 225.12 161.23 226.33 157.49 227.29 C153.76 228.25 151.02 229.10 147.74 230.65 C144.47 232.20 140.98 234.27 137.84 236.60 C134.70 238.92 131.21 242.18 128.90 244.59 C126.58 247.01 125.35 249.07 123.94 251.08 C122.53 253.08 121.68 254.07 120.42 256.61 C119.16 259.15 117.59 263.10 116.36 266.29 C115.12 269.49 113.92 271.80 113.01 275.80 C112.10 279.80 111.29 285.45 110.89 290.30 C110.49 295.15 110.49 300.05 110.60 304.92 C110.71 309.78 110.95 315.13 111.56 319.50 C112.18 323.87 113.32 327.23 114.29 331.13 C115.27 335.03 116.17 338.98 117.43 342.90 C118.68 346.82 120.29 350.90 121.83 354.63 C123.37 358.35 124.81 361.90 126.66 365.27 C128.50 368.65 130.69 371.85 132.91 374.88 C135.12 377.91 137.96 380.56 139.96 383.45 C141.96 386.33 143.32 389.15 144.91 392.19 C146.51 395.23 147.88 398.70 149.53 401.69 C151.19 404.67 152.69 407.78 154.83 410.09 C156.97 412.40 160.18 414.47 162.37 415.52 C164.55 416.57 166.24 416.50 167.93 416.40 C169.63 416.30 171.00 414.87 172.53 414.90 C174.07 414.93 175.41 416.39 177.15 416.61 C178.90 416.83 181.25 417.10 183.00 416.23 C184.76 415.36 186.47 413.73 187.67 411.39 C188.87 409.05 189.29 405.31 190.20 402.20 C191.10 399.08 191.91 395.82 193.09 392.68 C194.27 389.55 195.73 386.47 197.28 383.38 C198.83 380.30 200.61 377.24 202.39 374.19 C204.17 371.13 206.03 368.09 207.97 365.06 C209.90 362.03 212.01 358.99 214.00 356.00 C216.00 353.01 218.14 350.05 219.93 347.12 C221.72 344.20 223.31 341.50 224.75 338.46 C226.19 335.42 227.54 332.08 228.58 328.89 C229.61 325.69 230.25 322.82 230.97 319.28 C231.70 315.74 232.46 312.17 232.92 307.64 C233.37 303.11 233.86 297.12 233.70 292.12 C233.54 287.11 232.73 281.97 231.96 277.63 C231.18 273.29 230.18 269.74 229.06 266.05 C227.93 262.36 226.65 258.66 225.22 255.48 C223.79 252.30 222.20 249.63 220.48 246.96 C218.75 244.28 216.78 241.53 214.86 239.45 C212.94 237.36 211.16 235.98 208.96 234.46 C206.75 232.94 205.10 231.75 201.63 230.33 C198.17 228.91 193.43 226.85 188.19 225.95Z" fill="url(#cavity)"/>
<clipPath id="clipCav"><path d="M188.19 225.95 C182.94 225.04 175.27 224.67 170.16 224.90 C165.04 225.12 161.23 226.33 157.49 227.29 C153.76 228.25 151.02 229.10 147.74 230.65 C144.47 232.20 140.98 234.27 137.84 236.60 C134.70 238.92 131.21 242.18 128.90 244.59 C126.58 247.01 125.35 249.07 123.94 251.08 C122.53 253.08 121.68 254.07 120.42 256.61 C119.16 259.15 117.59 263.10 116.36 266.29 C115.12 269.49 113.92 271.80 113.01 275.80 C112.10 279.80 111.29 285.45 110.89 290.30 C110.49 295.15 110.49 300.05 110.60 304.92 C110.71 309.78 110.95 315.13 111.56 319.50 C112.18 323.87 113.32 327.23 114.29 331.13 C115.27 335.03 116.17 338.98 117.43 342.90 C118.68 346.82 120.29 350.90 121.83 354.63 C123.37 358.35 124.81 361.90 126.66 365.27 C128.50 368.65 130.69 371.85 132.91 374.88 C135.12 377.91 137.96 380.56 139.96 383.45 C141.96 386.33 143.32 389.15 144.91 392.19 C146.51 395.23 147.88 398.70 149.53 401.69 C151.19 404.67 152.69 407.78 154.83 410.09 C156.97 412.40 160.18 414.47 162.37 415.52 C164.55 416.57 166.24 416.50 167.93 416.40 C169.63 416.30 171.00 414.87 172.53 414.90 C174.07 414.93 175.41 416.39 177.15 416.61 C178.90 416.83 181.25 417.10 183.00 416.23 C184.76 415.36 186.47 413.73 187.67 411.39 C188.87 409.05 189.29 405.31 190.20 402.20 C191.10 399.08 191.91 395.82 193.09 392.68 C194.27 389.55 195.73 386.47 197.28 383.38 C198.83 380.30 200.61 377.24 202.39 374.19 C204.17 371.13 206.03 368.09 207.97 365.06 C209.90 362.03 212.01 358.99 214.00 356.00 C216.00 353.01 218.14 350.05 219.93 347.12 C221.72 344.20 223.31 341.50 224.75 338.46 C226.19 335.42 227.54 332.08 228.58 328.89 C229.61 325.69 230.25 322.82 230.97 319.28 C231.70 315.74 232.46 312.17 232.92 307.64 C233.37 303.11 233.86 297.12 233.70 292.12 C233.54 287.11 232.73 281.97 231.96 277.63 C231.18 273.29 230.18 269.74 229.06 266.05 C227.93 262.36 226.65 258.66 225.22 255.48 C223.79 252.30 222.20 249.63 220.48 246.96 C218.75 244.28 216.78 241.53 214.86 239.45 C212.94 237.36 211.16 235.98 208.96 234.46 C206.75 232.94 205.10 231.75 201.63 230.33 C198.17 228.91 193.43 226.85 188.19 225.95Z"/></clipPath>
<g clip-path="url(#clipCav)">
<path d="M188.19 225.95 C182.94 225.04 175.27 224.67 170.16 224.90 C165.04 225.12 161.23 226.33 157.49 227.29 C153.76 228.25 151.02 229.10 147.74 230.65 C144.47 232.20 140.98 234.27 137.84 236.60 C134.70 238.92 131.21 242.18 128.90 244.59 C126.58 247.01 125.35 249.07 123.94 251.08 C122.53 253.08 121.68 254.07 120.42 256.61 C119.16 259.15 117.59 263.10 116.36 266.29 C115.12 269.49 113.92 271.80 113.01 275.80 C112.10 279.80 111.29 285.45 110.89 290.30 C110.49 295.15 110.49 300.05 110.60 304.92 C110.71 309.78 110.95 315.13 111.56 319.50 C112.18 323.87 113.32 327.23 114.29 331.13 C115.27 335.03 116.17 338.98 117.43 342.90 C118.68 346.82 120.29 350.90 121.83 354.63 C123.37 358.35 124.81 361.90 126.66 365.27 C128.50 368.65 130.69 371.85 132.91 374.88 C135.12 377.91 137.96 380.56 139.96 383.45 C141.96 386.33 143.32 389.15 144.91 392.19 C146.51 395.23 147.88 398.70 149.53 401.69 C151.19 404.67 152.69 407.78 154.83 410.09 C156.97 412.40 160.18 414.47 162.37 415.52 C164.55 416.57 166.24 416.50 167.93 416.40 C169.63 416.30 171.00 414.87 172.53 414.90 C174.07 414.93 175.41 416.39 177.15 416.61 C178.90 416.83 181.25 417.10 183.00 416.23 C184.76 415.36 186.47 413.73 187.67 411.39 C188.87 409.05 189.29 405.31 190.20 402.20 C191.10 399.08 191.91 395.82 193.09 392.68 C194.27 389.55 195.73 386.47 197.28 383.38 C198.83 380.30 200.61 377.24 202.39 374.19 C204.17 371.13 206.03 368.09 207.97 365.06 C209.90 362.03 212.01 358.99 214.00 356.00 C216.00 353.01 218.14 350.05 219.93 347.12 C221.72 344.20 223.31 341.50 224.75 338.46 C226.19 335.42 227.54 332.08 228.58 328.89 C229.61 325.69 230.25 322.82 230.97 319.28 C231.70 315.74 232.46 312.17 232.92 307.64 C233.37 303.11 233.86 297.12 233.70 292.12 C233.54 287.11 232.73 281.97 231.96 277.63 C231.18 273.29 230.18 269.74 229.06 266.05 C227.93 262.36 226.65 258.66 225.22 255.48 C223.79 252.30 222.20 249.63 220.48 246.96 C218.75 244.28 216.78 241.53 214.86 239.45 C212.94 237.36 211.16 235.98 208.96 234.46 C206.75 232.94 205.10 231.75 201.63 230.33 C198.17 228.91 193.43 226.85 188.19 225.95Z" fill="none" stroke="#7c1b1c" stroke-width="8" opacity="0.85" filter="url(#soft)"/>
<path d="M160 215 L245 215 L245 315 L232 306 C228 296 224 292 218.6 286.9 C205 280 193.5 273.5 183.4 265.2 C174.5 255 170.8 241.7 166.7 226.7 Z" fill="#d89c9a"/>
<path d="M166.70 226.70 C165.17 227.82 169.50 236.98 170.80 241.70 C172.10 246.42 172.97 250.95 174.50 255.00 C176.03 259.05 177.42 262.50 180.00 266.00 C182.58 269.50 186.33 273.00 190.00 276.00 C193.67 279.00 197.67 281.17 202.00 284.00 C206.33 286.83 211.83 290.17 216.00 293.00 C220.17 295.83 224.25 298.83 227.00 301.00 C229.75 303.17 231.62 306.67 232.50 306.00 C233.38 305.33 232.58 299.83 232.30 297.00 C232.02 294.17 231.43 292.17 230.80 289.00 C230.17 285.83 229.50 281.58 228.50 278.00 C227.50 274.42 226.38 270.75 224.80 267.50 C223.22 264.25 221.47 261.25 219.00 258.50 C216.53 255.75 213.83 253.58 210.00 251.00 C206.17 248.42 201.00 245.67 196.00 243.00 C191.00 240.33 184.88 237.72 180.00 235.00 C175.12 232.28 168.23 225.58 166.70 226.70Z" fill="url(#placenta)"/>
<path d="M178 243 C192 254 210 268 226 290" fill="none" stroke="#b07482" stroke-width="7" opacity="0.45" filter="url(#soft2)"/>
<g transform="translate(182 231) rotate(22) scale(1.25)" stroke="#c8302e" stroke-width="1.2" fill="none" stroke-linecap="round"><path d="M-3.5 -0.5 L3.5 -0.5 M-1.5 -3.5 L-1.5 3.5 M1.5 -3.5 L1.5 3.5 M-3.5 2 L-1.5 2"/></g>
<g transform="translate(195 236) rotate(28) scale(1.25)" stroke="#c8302e" stroke-width="1.2" fill="none" stroke-linecap="round"><path d="M-3.5 -0.5 L3.5 -0.5 M-1.5 -3.5 L-1.5 3.5 M1.5 -3.5 L1.5 3.5 M-3.5 2 L-1.5 2"/></g>
<g transform="translate(208 242) rotate(36) scale(1.25)" stroke="#c8302e" stroke-width="1.2" fill="none" stroke-linecap="round"><path d="M-3.5 -0.5 L3.5 -0.5 M-1.5 -3.5 L-1.5 3.5 M1.5 -3.5 L1.5 3.5 M-3.5 2 L-1.5 2"/></g>
<g transform="translate(219 251) rotate(48) scale(1.25)" stroke="#c8302e" stroke-width="1.2" fill="none" stroke-linecap="round"><path d="M-3.5 -0.5 L3.5 -0.5 M-1.5 -3.5 L-1.5 3.5 M1.5 -3.5 L1.5 3.5 M-3.5 2 L-1.5 2"/></g>
<g transform="translate(226.5 262) rotate(62) scale(1.25)" stroke="#c8302e" stroke-width="1.2" fill="none" stroke-linecap="round"><path d="M-3.5 -0.5 L3.5 -0.5 M-1.5 -3.5 L-1.5 3.5 M1.5 -3.5 L1.5 3.5 M-3.5 2 L-1.5 2"/></g>
<g transform="translate(230.5 276) rotate(75) scale(1.25)" stroke="#c8302e" stroke-width="1.2" fill="none" stroke-linecap="round"><path d="M-3.5 -0.5 L3.5 -0.5 M-1.5 -3.5 L-1.5 3.5 M1.5 -3.5 L1.5 3.5 M-3.5 2 L-1.5 2"/></g>
<g transform="translate(232.5 290) rotate(85) scale(1.25)" stroke="#c8302e" stroke-width="1.2" fill="none" stroke-linecap="round"><path d="M-3.5 -0.5 L3.5 -0.5 M-1.5 -3.5 L-1.5 3.5 M1.5 -3.5 L1.5 3.5 M-3.5 2 L-1.5 2"/></g>
</g>
<path d="M136.00 256.50 C139.00 255.83 143.00 257.25 146.00 258.00 C149.00 258.75 151.67 259.83 154.00 261.00 C156.33 262.17 158.17 263.67 160.00 265.00 C161.83 266.33 163.33 268.75 165.00 269.00 C166.67 269.25 168.17 267.17 170.00 266.50 C171.83 265.83 174.00 264.50 176.00 265.00 C178.00 265.50 180.00 268.00 182.00 269.50 C184.00 271.00 186.00 272.92 188.00 274.00 C190.00 275.08 192.25 275.42 194.00 276.00 C195.75 276.58 198.17 276.83 198.50 277.50 C198.83 278.17 197.92 279.50 196.00 280.00 C194.08 280.50 189.75 280.33 187.00 280.50 C184.25 280.67 181.83 280.08 179.50 281.00 C177.17 281.92 174.92 284.08 173.00 286.00 C171.08 287.92 170.00 290.92 168.00 292.50 C166.00 294.08 162.83 294.25 161.00 295.50 C159.17 296.75 157.50 298.58 157.00 300.00 C156.50 301.42 156.33 303.17 158.00 304.00 C159.67 304.83 164.00 304.58 167.00 305.00 C170.00 305.42 173.33 305.83 176.00 306.50 C178.67 307.17 181.42 308.17 183.00 309.00 C184.58 309.83 185.67 310.58 185.50 311.50 C185.33 312.42 183.92 313.87 182.00 314.50 C180.08 315.13 176.67 315.08 174.00 315.30 C171.33 315.52 168.33 315.43 166.00 315.80 C163.67 316.17 161.75 316.30 160.00 317.50 C158.25 318.70 155.83 321.17 155.50 323.00 C155.17 324.83 156.58 327.92 158.00 328.50 C159.42 329.08 161.83 327.50 164.00 326.50 C166.17 325.50 168.67 323.67 171.00 322.50 C173.33 321.33 175.83 319.67 178.00 319.50 C180.17 319.33 181.95 320.28 184.00 321.50 C186.05 322.72 187.58 324.25 190.30 326.80 C193.02 329.35 197.85 333.18 200.30 336.80 C202.75 340.42 204.45 344.87 205.00 348.50 C205.55 352.13 204.93 355.52 203.60 358.60 C202.27 361.68 200.07 364.77 197.00 367.00 C193.93 369.23 189.12 371.33 185.20 372.00 C181.28 372.67 177.40 372.00 173.50 371.00 C169.60 370.00 165.42 368.33 161.80 366.00 C158.18 363.67 155.15 359.92 151.80 357.00 C148.45 354.08 145.33 351.17 141.70 348.50 C138.07 345.83 133.45 344.42 130.00 341.00 C126.55 337.58 123.28 333.17 121.00 328.00 C118.72 322.83 117.05 316.33 116.30 310.00 C115.55 303.67 115.72 296.17 116.50 290.00 C117.28 283.83 119.08 277.67 121.00 273.00 C122.92 268.33 125.50 264.75 128.00 262.00 C130.50 259.25 133.00 257.17 136.00 256.50Z" fill="url(#fetusGrad)" stroke="#c9b0a8" stroke-width="0.7"/>
<path d="M170 347 C164 345 162 352 166 356 C169 359 175 358 175 354 C175 351 171 350 169 352" fill="none" stroke="#9c8480" stroke-width="0.7"/>
<path d="M178 329.5 C181 328 184 330.5 182.5 334" fill="none" stroke="#9c8480" stroke-width="0.6"/>
<path d="M150 262 C156 266 160 272 163 278" fill="none" stroke="#c4aca4" stroke-width="0.6"/>
<path d="M148 299 C150 304 150 309 149 313" fill="none" stroke="#c4aca4" stroke-width="0.6"/>
<path d="M157 300 C165 300 172 299.5 178 298.5 C184 297.5 192.5 296 192.5 290 C192.5 284.5 186 283 183 287 C180 291 182 299 189 299.5 C196 300 203.5 294 203.5 286.5 C203.5 279 197 277 194 281 C191 285 193.5 290 197.5 289.5 M201.5 280.5 C199.5 277.5 195 275 191 273.5" fill="none" stroke="#c88a98" stroke-width="6.2" stroke-linecap="round"/>
<path d="M157 300 C165 300 172 299.5 178 298.5 C184 297.5 192.5 296 192.5 290 C192.5 284.5 186 283 183 287 C180 291 182 299 189 299.5 C196 300 203.5 294 203.5 286.5 C203.5 279 197 277 194 281 C191 285 193.5 290 197.5 289.5 M201.5 280.5 C199.5 277.5 195 275 191 273.5" fill="none" stroke="#e8c0c8" stroke-width="4.4" stroke-linecap="round"/>
<path d="M157 300 C165 300 172 299.5 178 298.5 C184 297.5 192.5 296 192.5 290 C192.5 284.5 186 283 183 287 C180 291 182 299 189 299.5 C196 300 203.5 294 203.5 286.5 C203.5 279 197 277 194 281 C191 285 193.5 290 197.5 289.5 M201.5 280.5 C199.5 277.5 195 275 191 273.5" fill="none" stroke="#f8e8ec" stroke-width="1.8" stroke-linecap="round"/>
<g mask="url(#trunkMask)">
<path d="M81.5 362 C81 374 86 383 94 392 C102 402 109 412 108.5 424 C108 436 100 447 84 462" fill="none" stroke="#a01c1c" stroke-width="21" stroke-linecap="round" stroke-linejoin="round"/><path d="M81.5 362 C81 374 86 383 94 392 C102 402 109 412 108.5 424 C108 436 100 447 84 462" fill="none" stroke="#bb3232" stroke-width="14.28" stroke-linecap="round" stroke-linejoin="round"/><path d="M81.5 362 C81 374 86 383 94 392 C102 402 109 412 108.5 424 C108 436 100 447 84 462" fill="none" stroke="#e38e88" stroke-width="4.2" stroke-linecap="round" stroke-linejoin="round" opacity="0.75" filter="url(#soft)"/>
</g>
<path d="M54.8 253 C55.8 264 58.2 274 63 281 C66.5 286.5 71 289 76 289" fill="none" stroke="#a01c1c" stroke-width="8.2" stroke-linecap="round" stroke-linejoin="round"/><path d="M54.8 253 C55.8 264 58.2 274 63 281 C66.5 286.5 71 289 76 289" fill="none" stroke="#bb3232" stroke-width="5.58" stroke-linecap="round" stroke-linejoin="round"/><path d="M54.8 253 C55.8 264 58.2 274 63 281 C66.5 286.5 71 289 76 289" fill="none" stroke="#e38e88" stroke-width="2.3" stroke-linecap="round" stroke-linejoin="round" opacity="0.75" filter="url(#soft)"/>
<path d="M77.27 288.15 C77.73 288.23 79.12 288.63 80.04 288.60 C80.96 288.57 81.94 288.34 82.78 287.97 C83.62 287.60 84.45 287.03 85.09 286.38 C85.73 285.72 86.29 284.88 86.64 284.03 C86.99 283.18 87.19 282.20 87.20 281.28 C87.21 280.36 87.03 279.37 86.70 278.52 C86.36 277.66 85.83 276.81 85.20 276.14 C84.57 275.47 83.76 274.88 82.93 274.49 C82.09 274.10 81.12 273.86 80.20 273.81 C79.29 273.76 78.29 273.90 77.42 274.19 C76.55 274.49 75.68 274.99 74.98 275.58 C74.28 276.18 73.66 276.97 73.24 277.78 C72.81 278.60 72.53 279.56 72.44 280.47 C72.35 281.39 72.44 282.39 72.70 283.27 C72.95 284.15 73.41 285.05 73.98 285.77 C74.55 286.49 75.75 287.30 76.10 287.61" fill="none" stroke="#a01c1c" stroke-width="8.6" stroke-linecap="round" stroke-linejoin="round"/><path d="M77.27 288.15 C77.73 288.23 79.12 288.63 80.04 288.60 C80.96 288.57 81.94 288.34 82.78 287.97 C83.62 287.60 84.45 287.03 85.09 286.38 C85.73 285.72 86.29 284.88 86.64 284.03 C86.99 283.18 87.19 282.20 87.20 281.28 C87.21 280.36 87.03 279.37 86.70 278.52 C86.36 277.66 85.83 276.81 85.20 276.14 C84.57 275.47 83.76 274.88 82.93 274.49 C82.09 274.10 81.12 273.86 80.20 273.81 C79.29 273.76 78.29 273.90 77.42 274.19 C76.55 274.49 75.68 274.99 74.98 275.58 C74.28 276.18 73.66 276.97 73.24 277.78 C72.81 278.60 72.53 279.56 72.44 280.47 C72.35 281.39 72.44 282.39 72.70 283.27 C72.95 284.15 73.41 285.05 73.98 285.77 C74.55 286.49 75.75 287.30 76.10 287.61" fill="none" stroke="#bb3232" stroke-width="5.85" stroke-linecap="round" stroke-linejoin="round"/><path d="M77.27 288.15 C77.73 288.23 79.12 288.63 80.04 288.60 C80.96 288.57 81.94 288.34 82.78 287.97 C83.62 287.60 84.45 287.03 85.09 286.38 C85.73 285.72 86.29 284.88 86.64 284.03 C86.99 283.18 87.19 282.20 87.20 281.28 C87.21 280.36 87.03 279.37 86.70 278.52 C86.36 277.66 85.83 276.81 85.20 276.14 C84.57 275.47 83.76 274.88 82.93 274.49 C82.09 274.10 81.12 273.86 80.20 273.81 C79.29 273.76 78.29 273.90 77.42 274.19 C76.55 274.49 75.68 274.99 74.98 275.58 C74.28 276.18 73.66 276.97 73.24 277.78 C72.81 278.60 72.53 279.56 72.44 280.47 C72.35 281.39 72.44 282.39 72.70 283.27 C72.95 284.15 73.41 285.05 73.98 285.77 C74.55 286.49 75.75 287.30 76.10 287.61" fill="none" stroke="#e38e88" stroke-width="2.41" stroke-linecap="round" stroke-linejoin="round" opacity="0.75" filter="url(#soft)"/>
<path d="M73.5 286 C68.5 293 68.5 302 72 308 C75 313 80 317 85 319" fill="none" stroke="#a01c1c" stroke-width="9" stroke-linecap="round" stroke-linejoin="round"/><path d="M73.5 286 C68.5 293 68.5 302 72 308 C75 313 80 317 85 319" fill="none" stroke="#bb3232" stroke-width="6.12" stroke-linecap="round" stroke-linejoin="round"/><path d="M73.5 286 C68.5 293 68.5 302 72 308 C75 313 80 317 85 319" fill="none" stroke="#e38e88" stroke-width="2.52" stroke-linecap="round" stroke-linejoin="round" opacity="0.75" filter="url(#soft)"/>
<path d="M85.94 318.87 C86.34 319.09 87.47 319.92 88.32 320.21 C89.17 320.49 90.13 320.63 91.02 320.59 C91.92 320.55 92.86 320.33 93.68 319.97 C94.50 319.61 95.30 319.06 95.93 318.43 C96.56 317.80 97.11 317.00 97.47 316.18 C97.83 315.36 98.05 314.42 98.09 313.52 C98.13 312.63 97.99 311.67 97.71 310.82 C97.42 309.97 96.94 309.13 96.37 308.44 C95.79 307.76 95.04 307.14 94.26 306.71 C93.48 306.28 92.55 305.98 91.67 305.86 C90.78 305.75 89.81 305.80 88.94 306.01 C88.07 306.22 87.19 306.63 86.46 307.14 C85.72 307.65 85.04 308.35 84.55 309.09 C84.05 309.83 83.67 310.73 83.48 311.60 C83.28 312.47 83.25 313.44 83.39 314.33 C83.52 315.21 84.14 316.47 84.29 316.90" fill="none" stroke="#a01c1c" stroke-width="8.8" stroke-linecap="round" stroke-linejoin="round"/><path d="M85.94 318.87 C86.34 319.09 87.47 319.92 88.32 320.21 C89.17 320.49 90.13 320.63 91.02 320.59 C91.92 320.55 92.86 320.33 93.68 319.97 C94.50 319.61 95.30 319.06 95.93 318.43 C96.56 317.80 97.11 317.00 97.47 316.18 C97.83 315.36 98.05 314.42 98.09 313.52 C98.13 312.63 97.99 311.67 97.71 310.82 C97.42 309.97 96.94 309.13 96.37 308.44 C95.79 307.76 95.04 307.14 94.26 306.71 C93.48 306.28 92.55 305.98 91.67 305.86 C90.78 305.75 89.81 305.80 88.94 306.01 C88.07 306.22 87.19 306.63 86.46 307.14 C85.72 307.65 85.04 308.35 84.55 309.09 C84.05 309.83 83.67 310.73 83.48 311.60 C83.28 312.47 83.25 313.44 83.39 314.33 C83.52 315.21 84.14 316.47 84.29 316.90" fill="none" stroke="#bb3232" stroke-width="5.98" stroke-linecap="round" stroke-linejoin="round"/><path d="M85.94 318.87 C86.34 319.09 87.47 319.92 88.32 320.21 C89.17 320.49 90.13 320.63 91.02 320.59 C91.92 320.55 92.86 320.33 93.68 319.97 C94.50 319.61 95.30 319.06 95.93 318.43 C96.56 317.80 97.11 317.00 97.47 316.18 C97.83 315.36 98.05 314.42 98.09 313.52 C98.13 312.63 97.99 311.67 97.71 310.82 C97.42 309.97 96.94 309.13 96.37 308.44 C95.79 307.76 95.04 307.14 94.26 306.71 C93.48 306.28 92.55 305.98 91.67 305.86 C90.78 305.75 89.81 305.80 88.94 306.01 C88.07 306.22 87.19 306.63 86.46 307.14 C85.72 307.65 85.04 308.35 84.55 309.09 C84.05 309.83 83.67 310.73 83.48 311.60 C83.28 312.47 83.25 313.44 83.39 314.33 C83.52 315.21 84.14 316.47 84.29 316.90" fill="none" stroke="#e38e88" stroke-width="2.46" stroke-linecap="round" stroke-linejoin="round" opacity="0.75" filter="url(#soft)"/>
<path d="M84 318.5 C77.5 325 75 333 76.5 341 C78 349 80.5 356 84 361" fill="none" stroke="#a01c1c" stroke-width="10.5" stroke-linecap="round" stroke-linejoin="round"/><path d="M84 318.5 C77.5 325 75 333 76.5 341 C78 349 80.5 356 84 361" fill="none" stroke="#bb3232" stroke-width="7.14" stroke-linecap="round" stroke-linejoin="round"/><path d="M84 318.5 C77.5 325 75 333 76.5 341 C78 349 80.5 356 84 361" fill="none" stroke="#e38e88" stroke-width="2.94" stroke-linecap="round" stroke-linejoin="round" opacity="0.75" filter="url(#soft)"/>
<path d="M84.61 357.27 C84.87 357.72 85.53 359.20 86.21 359.97 C86.90 360.74 87.78 361.43 88.70 361.89 C89.62 362.36 90.70 362.67 91.72 362.76 C92.75 362.86 93.86 362.75 94.85 362.46 C95.84 362.18 96.84 361.67 97.65 361.04 C98.46 360.41 99.20 359.56 99.73 358.68 C100.25 357.79 100.63 356.74 100.80 355.72 C100.96 354.71 100.92 353.59 100.70 352.58 C100.48 351.58 100.04 350.55 99.46 349.70 C98.88 348.84 98.09 348.05 97.24 347.47 C96.39 346.89 95.37 346.44 94.36 346.21 C93.36 345.98 92.24 345.94 91.22 346.10 C90.21 346.25 89.15 346.63 88.26 347.15 C87.37 347.67 86.53 348.40 85.89 349.21 C85.26 350.02 84.74 351.02 84.45 352.01 C84.16 352.99 84.18 354.61 84.13 355.13" fill="none" stroke="#a01c1c" stroke-width="9.8" stroke-linecap="round" stroke-linejoin="round"/><path d="M84.61 357.27 C84.87 357.72 85.53 359.20 86.21 359.97 C86.90 360.74 87.78 361.43 88.70 361.89 C89.62 362.36 90.70 362.67 91.72 362.76 C92.75 362.86 93.86 362.75 94.85 362.46 C95.84 362.18 96.84 361.67 97.65 361.04 C98.46 360.41 99.20 359.56 99.73 358.68 C100.25 357.79 100.63 356.74 100.80 355.72 C100.96 354.71 100.92 353.59 100.70 352.58 C100.48 351.58 100.04 350.55 99.46 349.70 C98.88 348.84 98.09 348.05 97.24 347.47 C96.39 346.89 95.37 346.44 94.36 346.21 C93.36 345.98 92.24 345.94 91.22 346.10 C90.21 346.25 89.15 346.63 88.26 347.15 C87.37 347.67 86.53 348.40 85.89 349.21 C85.26 350.02 84.74 351.02 84.45 352.01 C84.16 352.99 84.18 354.61 84.13 355.13" fill="none" stroke="#bb3232" stroke-width="6.66" stroke-linecap="round" stroke-linejoin="round"/><path d="M84.61 357.27 C84.87 357.72 85.53 359.20 86.21 359.97 C86.90 360.74 87.78 361.43 88.70 361.89 C89.62 362.36 90.70 362.67 91.72 362.76 C92.75 362.86 93.86 362.75 94.85 362.46 C95.84 362.18 96.84 361.67 97.65 361.04 C98.46 360.41 99.20 359.56 99.73 358.68 C100.25 357.79 100.63 356.74 100.80 355.72 C100.96 354.71 100.92 353.59 100.70 352.58 C100.48 351.58 100.04 350.55 99.46 349.70 C98.88 348.84 98.09 348.05 97.24 347.47 C96.39 346.89 95.37 346.44 94.36 346.21 C93.36 345.98 92.24 345.94 91.22 346.10 C90.21 346.25 89.15 346.63 88.26 347.15 C87.37 347.67 86.53 348.40 85.89 349.21 C85.26 350.02 84.74 351.02 84.45 352.01 C84.16 352.99 84.18 354.61 84.13 355.13" fill="none" stroke="#e38e88" stroke-width="2.74" stroke-linecap="round" stroke-linejoin="round" opacity="0.75" filter="url(#soft)"/>
<path d="M98.63 379.90 C98.88 380.19 99.54 381.17 100.12 381.64 C100.70 382.10 101.42 382.49 102.14 382.71 C102.85 382.94 103.66 383.04 104.41 382.99 C105.15 382.94 105.94 382.74 106.62 382.42 C107.30 382.10 107.96 381.63 108.48 381.09 C109.00 380.55 109.44 379.86 109.73 379.17 C110.01 378.48 110.18 377.68 110.20 376.94 C110.21 376.19 110.08 375.38 109.83 374.68 C109.57 373.98 109.16 373.28 108.66 372.71 C108.17 372.15 107.53 371.65 106.86 371.30 C106.20 370.95 105.42 370.72 104.67 370.64 C103.93 370.56 103.12 370.62 102.40 370.81 C101.67 371.01 100.94 371.36 100.33 371.80 C99.73 372.24 99.17 372.84 98.77 373.47 C98.37 374.10 98.07 374.86 97.92 375.59 C97.77 376.33 97.90 377.50 97.89 377.88" fill="none" stroke="#a01c1c" stroke-width="7.6" stroke-linecap="round" stroke-linejoin="round"/><path d="M98.63 379.90 C98.88 380.19 99.54 381.17 100.12 381.64 C100.70 382.10 101.42 382.49 102.14 382.71 C102.85 382.94 103.66 383.04 104.41 382.99 C105.15 382.94 105.94 382.74 106.62 382.42 C107.30 382.10 107.96 381.63 108.48 381.09 C109.00 380.55 109.44 379.86 109.73 379.17 C110.01 378.48 110.18 377.68 110.20 376.94 C110.21 376.19 110.08 375.38 109.83 374.68 C109.57 373.98 109.16 373.28 108.66 372.71 C108.17 372.15 107.53 371.65 106.86 371.30 C106.20 370.95 105.42 370.72 104.67 370.64 C103.93 370.56 103.12 370.62 102.40 370.81 C101.67 371.01 100.94 371.36 100.33 371.80 C99.73 372.24 99.17 372.84 98.77 373.47 C98.37 374.10 98.07 374.86 97.92 375.59 C97.77 376.33 97.90 377.50 97.89 377.88" fill="none" stroke="#bb3232" stroke-width="5.17" stroke-linecap="round" stroke-linejoin="round"/><path d="M98.63 379.90 C98.88 380.19 99.54 381.17 100.12 381.64 C100.70 382.10 101.42 382.49 102.14 382.71 C102.85 382.94 103.66 383.04 104.41 382.99 C105.15 382.94 105.94 382.74 106.62 382.42 C107.30 382.10 107.96 381.63 108.48 381.09 C109.00 380.55 109.44 379.86 109.73 379.17 C110.01 378.48 110.18 377.68 110.20 376.94 C110.21 376.19 110.08 375.38 109.83 374.68 C109.57 373.98 109.16 373.28 108.66 372.71 C108.17 372.15 107.53 371.65 106.86 371.30 C106.20 370.95 105.42 370.72 104.67 370.64 C103.93 370.56 103.12 370.62 102.40 370.81 C101.67 371.01 100.94 371.36 100.33 371.80 C99.73 372.24 99.17 372.84 98.77 373.47 C98.37 374.10 98.07 374.86 97.92 375.59 C97.77 376.33 97.90 377.50 97.89 377.88" fill="none" stroke="#e38e88" stroke-width="2.13" stroke-linecap="round" stroke-linejoin="round" opacity="0.75" filter="url(#soft)"/>
<path d="M357.90 247.20 C361.27 247.20 364.82 247.63 368.00 248.60 C371.18 249.57 374.00 250.60 377.00 253.00 C380.00 255.40 383.67 259.67 386.00 263.00 C388.33 266.33 390.00 269.83 391.00 273.00 C392.00 276.17 392.08 278.33 392.00 282.00 C391.92 285.67 391.50 291.00 390.50 295.00 C389.50 299.00 387.58 302.50 386.00 306.00 C384.42 309.50 382.23 312.67 381.00 316.00 C379.77 319.33 379.13 322.62 378.60 326.00 C378.07 329.38 378.48 333.38 377.80 336.30 C377.12 339.22 376.13 341.83 374.50 343.50 C372.87 345.17 370.00 345.97 368.00 346.30 C366.00 346.63 364.18 346.30 362.50 345.50 C360.82 344.70 359.43 341.50 357.90 341.50 C356.37 341.50 354.98 344.70 353.30 345.50 C351.62 346.30 349.80 346.63 347.80 346.30 C345.80 345.97 342.83 345.17 341.30 343.50 C339.77 341.83 339.22 339.22 338.60 336.30 C337.98 333.38 338.23 329.38 337.60 326.00 C336.97 322.62 336.10 319.33 334.80 316.00 C333.50 312.67 331.38 309.50 329.80 306.00 C328.22 302.50 326.30 299.00 325.30 295.00 C324.30 291.00 323.88 285.67 323.80 282.00 C323.72 278.33 323.80 276.17 324.80 273.00 C325.80 269.83 327.47 266.33 329.80 263.00 C332.13 259.67 335.80 255.40 338.80 253.00 C341.80 250.60 344.62 249.57 347.80 248.60 C350.98 247.63 354.53 247.20 357.90 247.20Z" fill="url(#hatchWall)" stroke="#a86a5c" stroke-width="0.8"/>
<path d="M330.3 281.9 C336 278.5 346 276.5 357.9 276.5 C370 276.5 379 278.5 384 281 C382 285 379 289 376 293 C372 299 368.5 305 366.5 312 C364.5 320 363.5 328 362.5 336 C362 340 361.5 343 360.8 343.5 L355 343.5 C354.3 343 353.8 340 353.3 336 C352.3 328 351.3 320 349.3 312 C347.3 305 343.8 299 339.8 293 C336.8 289 333.3 285 330.3 281.9Z" fill="url(#hatchLight)" stroke="#b88474" stroke-width="0.6"/>
<path d="M339.2 282.8 C348 282 366 282 373 282.8 C371 286 368 291 365.5 295 C362.5 300 361 306 360 312 C359.2 317 358.6 321 357.9 326 C357.2 321 356.6 317 355.8 312 C354.8 306 353.3 300 350.3 295 C347.8 291 344.5 286 339.2 282.8Z" fill="#9c2627" stroke="#8a2424" stroke-width="0.5"/>
<path d="M346 285 C352 288 356 296 357.9 310 C360 296 364 288 368 285Z" fill="#b23c3c" opacity="0.6"/>
<line x1="357.9" y1="322" x2="357.9" y2="342" stroke="#a04040" stroke-width="0.9"/>
<rect x="351.6" y="280.1" width="11.6" height="11.5" fill="#fff" fill-opacity="0.08" stroke="#8e9696" stroke-width="1"/>
<path d="M414.7 268.5 C410 271.5 406 276 404.3 283 C403.5 292 405.5 300 405 306 C404.5 313 402 318 398.5 322" fill="none" stroke="#9c1e1e" stroke-width="5.2" stroke-linecap="round" stroke-linejoin="round"/><path d="M414.7 268.5 C410 271.5 406 276 404.3 283 C403.5 292 405.5 300 405 306 C404.5 313 402 318 398.5 322" fill="none" stroke="#b83030" stroke-width="3.54" stroke-linecap="round" stroke-linejoin="round"/><path d="M414.7 268.5 C410 271.5 406 276 404.3 283 C403.5 292 405.5 300 405 306 C404.5 313 402 318 398.5 322" fill="none" stroke="#de8480" stroke-width="1.46" stroke-linecap="round" stroke-linejoin="round" opacity="0.75" filter="url(#soft)"/>
<path d="M396 320 C398 330 403 340 412.5 351.5" fill="none" stroke="#9c1e1e" stroke-width="6.2" stroke-linecap="round" stroke-linejoin="round"/><path d="M396 320 C398 330 403 340 412.5 351.5" fill="none" stroke="#b83030" stroke-width="4.22" stroke-linecap="round" stroke-linejoin="round"/><path d="M396 320 C398 330 403 340 412.5 351.5" fill="none" stroke="#de8480" stroke-width="1.74" stroke-linecap="round" stroke-linejoin="round" opacity="0.75" filter="url(#soft)"/>
<path d="M396.13 292.73 C396.47 292.72 397.53 292.82 398.17 292.67 C398.82 292.53 399.49 292.24 400.02 291.87 C400.55 291.50 401.03 290.98 401.36 290.45 C401.69 289.92 401.91 289.27 401.98 288.66 C402.04 288.05 401.96 287.37 401.76 286.79 C401.55 286.21 401.19 285.62 400.75 285.16 C400.31 284.70 399.72 284.29 399.11 284.03 C398.51 283.77 397.79 283.62 397.12 283.60 C396.46 283.59 395.73 283.71 395.12 283.94 C394.50 284.17 393.89 284.55 393.42 284.99 C392.96 285.43 392.56 286.00 392.32 286.57 C392.09 287.15 391.97 287.82 392.01 288.43 C392.04 289.04 392.23 289.70 392.52 290.25 C392.82 290.80 393.58 291.48 393.79 291.72" fill="none" stroke="#9c1e1e" stroke-width="5.4" stroke-linecap="round" stroke-linejoin="round"/><path d="M396.13 292.73 C396.47 292.72 397.53 292.82 398.17 292.67 C398.82 292.53 399.49 292.24 400.02 291.87 C400.55 291.50 401.03 290.98 401.36 290.45 C401.69 289.92 401.91 289.27 401.98 288.66 C402.04 288.05 401.96 287.37 401.76 286.79 C401.55 286.21 401.19 285.62 400.75 285.16 C400.31 284.70 399.72 284.29 399.11 284.03 C398.51 283.77 397.79 283.62 397.12 283.60 C396.46 283.59 395.73 283.71 395.12 283.94 C394.50 284.17 393.89 284.55 393.42 284.99 C392.96 285.43 392.56 286.00 392.32 286.57 C392.09 287.15 391.97 287.82 392.01 288.43 C392.04 289.04 392.23 289.70 392.52 290.25 C392.82 290.80 393.58 291.48 393.79 291.72" fill="none" stroke="#b83030" stroke-width="3.67" stroke-linecap="round" stroke-linejoin="round"/><path d="M396.13 292.73 C396.47 292.72 397.53 292.82 398.17 292.67 C398.82 292.53 399.49 292.24 400.02 291.87 C400.55 291.50 401.03 290.98 401.36 290.45 C401.69 289.92 401.91 289.27 401.98 288.66 C402.04 288.05 401.96 287.37 401.76 286.79 C401.55 286.21 401.19 285.62 400.75 285.16 C400.31 284.70 399.72 284.29 399.11 284.03 C398.51 283.77 397.79 283.62 397.12 283.60 C396.46 283.59 395.73 283.71 395.12 283.94 C394.50 284.17 393.89 284.55 393.42 284.99 C392.96 285.43 392.56 286.00 392.32 286.57 C392.09 287.15 391.97 287.82 392.01 288.43 C392.04 289.04 392.23 289.70 392.52 290.25 C392.82 290.80 393.58 291.48 393.79 291.72" fill="none" stroke="#de8480" stroke-width="1.51" stroke-linecap="round" stroke-linejoin="round" opacity="0.75" filter="url(#soft)"/>
<path d="M392.79 307.13 C393.19 307.12 394.41 307.21 395.16 307.08 C395.91 306.94 396.69 306.66 397.30 306.31 C397.92 305.95 398.48 305.46 398.86 304.95 C399.24 304.44 399.49 303.82 399.57 303.24 C399.65 302.65 399.56 302.01 399.32 301.45 C399.08 300.89 398.66 300.33 398.15 299.89 C397.64 299.45 396.95 299.06 396.25 298.81 C395.55 298.56 394.72 298.42 393.94 298.40 C393.17 298.39 392.33 298.50 391.61 298.72 C390.90 298.95 390.19 299.31 389.65 299.73 C389.11 300.15 388.65 300.70 388.37 301.24 C388.10 301.79 387.97 302.43 388.01 303.02 C388.05 303.61 388.26 304.23 388.61 304.76 C388.95 305.28 389.83 305.94 390.07 306.17" fill="none" stroke="#9c1e1e" stroke-width="5.4" stroke-linecap="round" stroke-linejoin="round"/><path d="M392.79 307.13 C393.19 307.12 394.41 307.21 395.16 307.08 C395.91 306.94 396.69 306.66 397.30 306.31 C397.92 305.95 398.48 305.46 398.86 304.95 C399.24 304.44 399.49 303.82 399.57 303.24 C399.65 302.65 399.56 302.01 399.32 301.45 C399.08 300.89 398.66 300.33 398.15 299.89 C397.64 299.45 396.95 299.06 396.25 298.81 C395.55 298.56 394.72 298.42 393.94 298.40 C393.17 298.39 392.33 298.50 391.61 298.72 C390.90 298.95 390.19 299.31 389.65 299.73 C389.11 300.15 388.65 300.70 388.37 301.24 C388.10 301.79 387.97 302.43 388.01 303.02 C388.05 303.61 388.26 304.23 388.61 304.76 C388.95 305.28 389.83 305.94 390.07 306.17" fill="none" stroke="#b83030" stroke-width="3.67" stroke-linecap="round" stroke-linejoin="round"/><path d="M392.79 307.13 C393.19 307.12 394.41 307.21 395.16 307.08 C395.91 306.94 396.69 306.66 397.30 306.31 C397.92 305.95 398.48 305.46 398.86 304.95 C399.24 304.44 399.49 303.82 399.57 303.24 C399.65 302.65 399.56 302.01 399.32 301.45 C399.08 300.89 398.66 300.33 398.15 299.89 C397.64 299.45 396.95 299.06 396.25 298.81 C395.55 298.56 394.72 298.42 393.94 298.40 C393.17 298.39 392.33 298.50 391.61 298.72 C390.90 298.95 390.19 299.31 389.65 299.73 C389.11 300.15 388.65 300.70 388.37 301.24 C388.10 301.79 387.97 302.43 388.01 303.02 C388.05 303.61 388.26 304.23 388.61 304.76 C388.95 305.28 389.83 305.94 390.07 306.17" fill="none" stroke="#de8480" stroke-width="1.51" stroke-linecap="round" stroke-linejoin="round" opacity="0.75" filter="url(#soft)"/>
<path d="M389.82 322.92 C390.28 322.91 391.71 323.02 392.60 322.86 C393.48 322.70 394.38 322.39 395.11 321.99 C395.83 321.58 396.49 321.03 396.93 320.45 C397.37 319.86 397.68 319.16 397.77 318.50 C397.86 317.83 397.75 317.10 397.47 316.47 C397.19 315.83 396.70 315.19 396.10 314.69 C395.50 314.19 394.70 313.75 393.87 313.47 C393.05 313.19 392.08 313.02 391.17 313.00 C390.26 312.98 389.28 313.12 388.44 313.37 C387.60 313.62 386.77 314.03 386.13 314.51 C385.50 314.99 384.96 315.61 384.64 316.23 C384.32 316.85 384.16 317.58 384.21 318.25 C384.25 318.91 384.51 319.63 384.91 320.23 C385.31 320.82 386.34 321.56 386.63 321.83" fill="none" stroke="#9c1e1e" stroke-width="5.8" stroke-linecap="round" stroke-linejoin="round"/><path d="M389.82 322.92 C390.28 322.91 391.71 323.02 392.60 322.86 C393.48 322.70 394.38 322.39 395.11 321.99 C395.83 321.58 396.49 321.03 396.93 320.45 C397.37 319.86 397.68 319.16 397.77 318.50 C397.86 317.83 397.75 317.10 397.47 316.47 C397.19 315.83 396.70 315.19 396.10 314.69 C395.50 314.19 394.70 313.75 393.87 313.47 C393.05 313.19 392.08 313.02 391.17 313.00 C390.26 312.98 389.28 313.12 388.44 313.37 C387.60 313.62 386.77 314.03 386.13 314.51 C385.50 314.99 384.96 315.61 384.64 316.23 C384.32 316.85 384.16 317.58 384.21 318.25 C384.25 318.91 384.51 319.63 384.91 320.23 C385.31 320.82 386.34 321.56 386.63 321.83" fill="none" stroke="#b83030" stroke-width="3.94" stroke-linecap="round" stroke-linejoin="round"/><path d="M389.82 322.92 C390.28 322.91 391.71 323.02 392.60 322.86 C393.48 322.70 394.38 322.39 395.11 321.99 C395.83 321.58 396.49 321.03 396.93 320.45 C397.37 319.86 397.68 319.16 397.77 318.50 C397.86 317.83 397.75 317.10 397.47 316.47 C397.19 315.83 396.70 315.19 396.10 314.69 C395.50 314.19 394.70 313.75 393.87 313.47 C393.05 313.19 392.08 313.02 391.17 313.00 C390.26 312.98 389.28 313.12 388.44 313.37 C387.60 313.62 386.77 314.03 386.13 314.51 C385.50 314.99 384.96 315.61 384.64 316.23 C384.32 316.85 384.16 317.58 384.21 318.25 C384.25 318.91 384.51 319.63 384.91 320.23 C385.31 320.82 386.34 321.56 386.63 321.83" fill="none" stroke="#de8480" stroke-width="1.62" stroke-linecap="round" stroke-linejoin="round" opacity="0.75" filter="url(#soft)"/>
<g stroke="#111" stroke-width="1.8" fill="#111"><line x1="255" y1="114.6" x2="281" y2="114.6"/><path d="M286.5 114.6 L279 110.8 L280.5 114.6 L279 118.4Z" stroke="none"/><line x1="277" y1="293.4" x2="303" y2="293.4"/><path d="M308.5 293.4 L301 289.6 L302.5 293.4 L301 297.2Z" stroke="none"/><line x1="189" y1="181" x2="189" y2="220.5"/><path d="M189 175 L185.2 182.5 L189 181 L192.8 182.5Z" stroke="none"/><line x1="357.8" y1="180" x2="357.8" y2="280"/><path d="M357.8 174 L354 181.5 L357.8 180 L361.6 181.5Z" stroke="none"/></g>
<rect x="178.7" y="220.2" width="22.8" height="18.4" fill="#fff" fill-opacity="0.25" stroke="#4a4a4a" stroke-width="1"/>
<g font-size="12.5" text-anchor="end"><text x="93.5" y="37.7">Dilated</text><text x="93.5" y="51.7">uteroplacental</text><text x="93.5" y="65.7">arteries lined</text><text x="93.5" y="79.7">by trophoblasts</text><text x="93.5" y="100.5">Decidualized</text><text x="93.5" y="114.5">endometrium</text><text x="92" y="132.5">Trophoblast</text><text x="93" y="159.3">Chorionic villi</text></g>
<g stroke="#8d9393" stroke-width="1.3"><line x1="96.5" y1="61.5" x2="106" y2="61.5"/><line x1="96.5" y1="96.3" x2="108" y2="96.3"/><line x1="96.3" y1="129.3" x2="112" y2="129.3"/><line x1="96.5" y1="155.8" x2="110" y2="155.8"/></g>
<g font-size="12.5"><text x="449.5" y="66.5">Uterine spiral arteries</text><text x="449.5" y="80.5">with regenerated muscular</text><text x="449.5" y="94.5">elastic wall and regenerated</text><text x="449.5" y="108.5">endothelial lining</text><text x="452" y="130.5">Endometrium</text></g>
<text x="1" y="185" font-size="15">A</text>
<text x="1" y="474.5" font-size="15">B</text>
<text x="272" y="474.5" font-size="15">C</text>
<text x="135.5" y="473.5" font-size="12.5">3rd trimester</text>
<text x="314.5" y="473.5" font-size="12.5">8 weeks postpartum</text>
<text x="19.5" y="353" font-size="12.5">Uterine</text>
<text x="27" y="367.5" font-size="12.5">artery</text>
<line x1="61.5" y1="362.7" x2="81.5" y2="362.7" stroke="#8d9393" stroke-width="1.3"/>
<circle cx="59" cy="389" r="8.6" fill="none" stroke="#231f20" stroke-width="0.9"/>
<text x="59" y="393.2" font-size="12.5" text-anchor="middle">a</text>
<rect x="37.5" y="411.5" width="84" height="28" fill="none" stroke="#6a6a6a" stroke-width="1"/>
<text x="81" y="423" font-size="12.5" text-anchor="end">600</text>
<text x="81" y="436" font-size="12.5" text-anchor="end">ml/sec</text>
<text x="418.7" y="284" font-size="12.5">Uterine</text>
<text x="418.7" y="298" font-size="12.5">artery</text>
<line x1="404" y1="280.3" x2="416" y2="280.3" stroke="#8d9393" stroke-width="1.2"/>
<circle cx="432.3" cy="313.3" r="8.4" fill="none" stroke="#231f20" stroke-width="0.9"/>
<text x="432.3" y="317.5" font-size="12.5" text-anchor="middle">a</text>
<rect x="388.5" y="327.5" width="84.5" height="15" fill="#fff" fill-opacity="0" stroke="#6a6a6a" stroke-width="1"/>
<text x="412.4" y="339" font-size="12.5">60 ml/sec</text>
</svg>
</body></html>
